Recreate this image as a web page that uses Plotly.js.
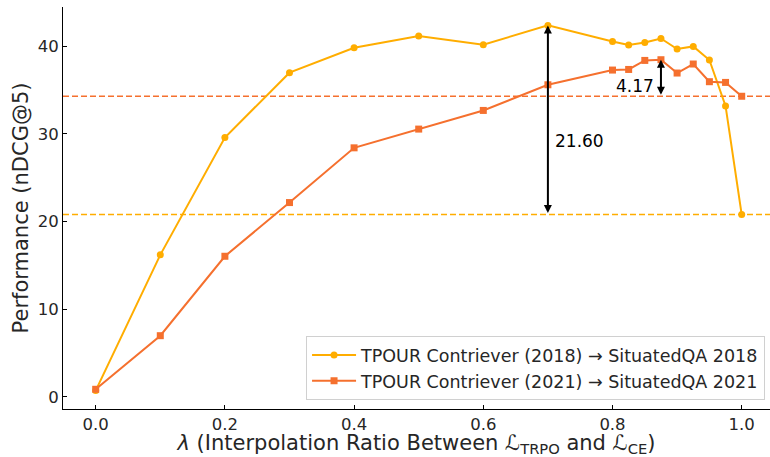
<!DOCTYPE html>
<html>
<head>
<meta charset="utf-8">
<script src="https://cdn.plot.ly/plotly-3.0.1.min.js"></script>
<style>html,body{margin:0;padding:0;background:#fff;}#chart{width:770px;height:457px;}</style>
</head>
<body>
<div id="chart"></div>
<script>
const lambdas = [0.0, 0.1, 0.2, 0.3, 0.4, 0.5, 0.6, 0.7, 0.8, 0.825, 0.85, 0.875, 0.9, 0.925, 0.95, 0.975, 1.0];
const perf2018 = [0.7, 16.2, 29.6, 37.0, 39.85, 41.2, 40.2, 42.4, 40.55, 40.15, 40.45, 40.9, 39.7, 40.0, 38.45, 33.2, 20.8];
const perf2021 = [0.85, 6.97, 16.04, 22.17, 28.42, 30.56, 32.69, 35.62, 37.3, 37.37, 38.4, 38.48, 36.96, 37.99, 35.97, 35.89, 34.31];
const seriesNames = ["TPOUR Contriever (2018) → SituatedQA 2018", "TPOUR Contriever (2021) → SituatedQA 2021"];
const xTicks = [0.0, 0.2, 0.4, 0.6, 0.8, 1.0];
const yTicks = [0, 10, 20, 30, 40];

const c2018 = "#FFAD00";
const c2021 = "#F5702E";
const txt = "#262626";
const font = "DejaVu Sans, sans-serif";

const base2018 = perf2018[perf2018.length - 1];
const base2021 = perf2021[perf2021.length - 1];
const i1 = 7, i2 = 11;
const gap1 = (perf2018[i1] - base2018).toFixed(2);
const gap2 = (perf2021[i2] - base2021).toFixed(2);

const traces = [
  {x: lambdas, y: perf2018, name: seriesNames[0], mode: "lines+markers",
   line: {color: c2018, width: 2}, marker: {symbol: "circle", size: 7, color: c2018}},
  {x: lambdas, y: perf2021, name: seriesNames[1], mode: "lines+markers",
   line: {color: c2021, width: 2}, marker: {symbol: "square", size: 7, color: c2021}}
];

const layout = {
  width: 770, height: 457,
  margin: {l: 63, r: 0, t: 7, b: 48},
  paper_bgcolor: "#fff", plot_bgcolor: "#fff",
  font: {family: font, color: txt, size: 16},
  showlegend: true,
  legend: {x: 0.993, xanchor: "right", y: 0.022, yanchor: "bottom",
           bgcolor: "rgba(255,255,255,0.85)", bordercolor: "#d0d0d0", borderwidth: 1,
           font: {family: font, size: 17.5, color: txt}, itemwidth: 44, tracegroupgap: 0},
  xaxis: {range: [-0.0506, 1.0438], tickvals: xTicks, ticktext: xTicks.map(v => v.toFixed(1)),
          ticks: "inside", ticklen: 4, tickcolor: "#000", showline: true, linecolor: "#000", linewidth: 1,
          showgrid: false, zeroline: false, tickfont: {size: 16.5, color: txt}, automargin: true,
          title: {text: "<i>λ</i> (Interpolation Ratio Between ℒ<sub>TRPO</sub> and ℒ<sub>CE</sub>)", font: {size: 21, color: txt}, standoff: 4}},
  yaxis: {range: [-1.4, 44.5], tickvals: yTicks, ticks: "inside", ticklen: 4, tickcolor: "#000",
          showline: true, linecolor: "#000", linewidth: 1, showgrid: false, zeroline: false,
          tickfont: {size: 16.5, color: txt},
          title: {text: "Performance (nDCG@5)", font: {size: 21, color: txt}, standoff: 3}},
  shapes: [
    {type: "line", xref: "paper", x0: 0, x1: 1, yref: "y", y0: base2018, y1: base2018,
     line: {color: c2018, width: 1.5, dash: "6px,3px"}, layer: "below"},
    {type: "line", xref: "paper", x0: 0, x1: 1, yref: "y", y0: base2021, y1: base2021,
     line: {color: c2021, width: 1.5, dash: "6px,3px"}, layer: "below"}
  ],
  annotations: [
    {x: lambdas[i1], y: perf2018[i1], ax: lambdas[i1], ay: base2018, xref: "x", yref: "y", axref: "x", ayref: "y",
     text: "", showarrow: true, arrowhead: 2, startarrowhead: 2, arrowside: "end+start", arrowwidth: 2, arrowsize: 0.8, arrowcolor: "#000"},
    {x: lambdas[i2], y: perf2021[i2], ax: lambdas[i2], ay: base2021, xref: "x", yref: "y", axref: "x", ayref: "y",
     text: "", showarrow: true, arrowhead: 2, startarrowhead: 2, arrowside: "end+start", arrowwidth: 2, arrowsize: 0.8, arrowcolor: "#000"},
    {x: lambdas[i1] + 0.008, y: 29.2, xref: "x", yref: "y", text: gap1, showarrow: false, xanchor: "left",
     font: {size: 17, color: "#000"}},
    {x: lambdas[i2] - 0.008, y: 35.5, xref: "x", yref: "y", text: gap2, showarrow: false, xanchor: "right",
     font: {size: 17, color: "#000"}}
  ]
};

Plotly.newPlot("chart", traces, layout, {displayModeBar: false, staticPlot: true});
</script>
</body>
</html>
